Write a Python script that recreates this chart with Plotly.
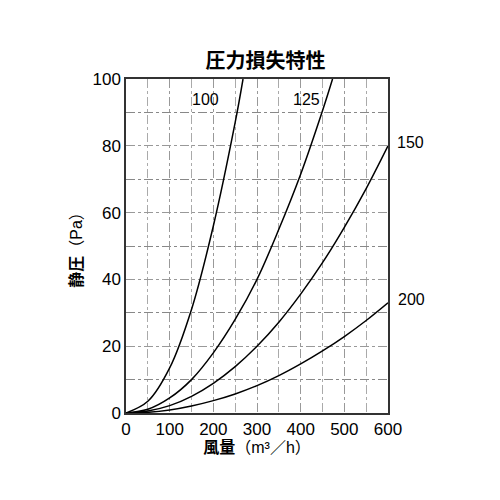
import plotly.graph_objects as go

# 風量 (m3/h) and 静圧 (Pa) for each duct size
q_100 = [0, 50, 100, 150, 200, 250, 268]
p_100 = [0, 3.5, 13.5, 31, 56, 87, 100]

q_125 = [0, 50, 100, 150, 200, 250, 300, 350, 400, 450, 473]
p_125 = [0, 1.1, 4.5, 10, 18, 28, 40, 55, 71.5, 90.5, 100]

q_150 = [0, 50, 100, 150, 200, 250, 300, 350, 400, 450, 500, 550, 600]
p_150 = [0, 0.6, 2.2, 5, 8.9, 13.9, 20, 27.2, 35.6, 45, 55.6, 67.2, 80]

q_200 = [0, 50, 100, 150, 200, 250, 300, 350, 400, 450, 500, 550, 600]
p_200 = [0, 0.2, 0.9, 2.1, 3.7, 5.7, 8.2, 11.2, 14.7, 18.6, 22.9, 27.7, 33]

curves = [("100", q_100, p_100), ("125", q_125, p_125),
          ("150", q_150, p_150), ("200", q_200, p_200)]

# where the size labels sit (data coords, some beyond the right edge)
label_pos = {"100": (182, 94), "125": (414, 94), "150": (652, 81), "200": (654, 34)}

Q_MAX, P_MAX = 600, 100
FONT = "Liberation Sans, Arial, Noto Sans CJK JP"
JP = "Noto Sans CJK JP"

fig = go.Figure()
for name, q, p in curves:
    fig.add_trace(go.Scatter(x=q, y=p, mode='lines', name=name,
                             line=dict(color='black', width=1.5, shape='spline'),
                             showlegend=False))
    lx, ly = label_pos[name]
    # paper refs so labels outside the axis range still show
    fig.add_annotation(x=lx / Q_MAX, y=ly / P_MAX, xref='paper', yref='paper',
                       xanchor='center', yanchor='middle',
                       text=name, showarrow=False,
                       font=dict(size=16, color='black'))

fig.update_layout(
    width=500, height=500,
    margin=dict(l=118, r=120, t=71, b=95),
    paper_bgcolor='white', plot_bgcolor='white',
    font=dict(family=FONT, color='black', size=17),
    title=dict(text='<b>圧力損失特性</b>', x=0.515, xanchor='center',
               y=0.895, yanchor='middle',
               font=dict(size=20, family=JP)),
    xaxis=dict(range=[0, Q_MAX], dtick=100, showline=True, mirror=True,
               linecolor='#333', linewidth=1.5,
               showgrid=True, gridcolor='#999', griddash='dashdot', gridwidth=1,
               minor=dict(dtick=50, showgrid=True, gridcolor='#aaa', gridwidth=1),
               ticks='', zeroline=False,
               title=dict(text='<b>風量</b>（m³／h）', standoff=4,
                          font=dict(size=16, family=FONT))),
    yaxis=dict(range=[0, P_MAX], dtick=20, showline=True, mirror=True,
               linecolor='#333', linewidth=1.5,
               showgrid=True, gridcolor='#999', griddash='dashdot', gridwidth=1,
               minor=dict(dtick=10, showgrid=True, gridcolor='#888', gridwidth=1),
               ticks='', zeroline=False,
               title=dict(text='<b>静圧</b>（Pa）', standoff=6,
                          font=dict(size=16, family=FONT))),
)

fig.write_html("out.html")
